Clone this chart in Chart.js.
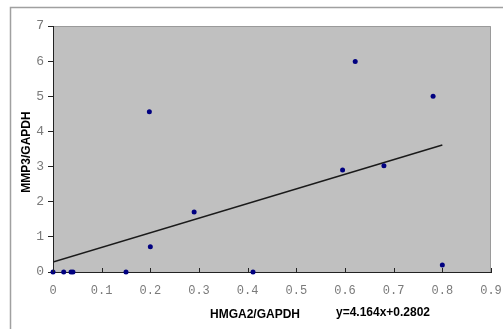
<!DOCTYPE html>
<html>
<head>
<meta charset="utf-8">
<script src="https://cdn.jsdelivr.net/npm/chart.js@4"></script>
<style>
  html, body { margin: 0; padding: 0; background: #fff; }
  #wrap { width: 503px; height: 329px; }
</style>
</head>
<body>
<div id="wrap"><canvas id="mycanvas" width="503" height="329"></canvas></div>
<script>
// values
var hmga2 = [0, 0.022, 0.037, 0.041, 0.15, 0.2, 0.198, 0.29, 0.411, 0.595, 0.621, 0.68, 0.781, 0.8];
var mmp3  = [0, 0, 0, 0, 0, 0.72, 4.56, 1.71, 0, 2.9, 5.99, 3.02, 5.0, 0.2];
var fitX = [0, 0.8];
var slope = 4.164, intercept = 0.2802;
var equation = 'y=4.164x+0.2802';
var xTitle = 'HMGA2/GAPDH';
var yTitle = 'MMP3/GAPDH';

var points = [];
for (var i in hmga2) {
  points.push({ x: hmga2[i], y: mmp3[i] });
}
var fit = [];
for (var j in fitX) {
  fit.push({ x: fitX[j], y: slope * fitX[j] + intercept });
}

// frame, plot background, inside x ticks, titles
var decor = {
  id: 'decor',
  beforeDraw: function(chart) {
    var c = chart.ctx, a = chart.chartArea;
    c.save();
    c.fillStyle = '#c0c0c0';
    c.fillRect(a.left, a.top, a.right - a.left, a.bottom - a.top);
    c.strokeStyle = '#a0a0a0';
    c.lineWidth = 1.5;
    c.beginPath();
    c.moveTo(10.5, 329);
    c.lineTo(10.5, 7.5);
    c.lineTo(503, 7.5);
    c.stroke();
    c.strokeStyle = '#9a9a9a';
    c.lineWidth = 1;
    c.beginPath();
    c.moveTo(a.left, a.top + 0.5);
    c.lineTo(a.right - 0.5, a.top + 0.5);
    c.lineTo(a.right - 0.5, a.bottom);
    c.stroke();
    c.restore();
  },
  afterDraw: function(chart) {
    var c = chart.ctx, a = chart.chartArea, xs = chart.scales.x;
    c.save();
    c.strokeStyle = '#222';
    c.lineWidth = 1;
    xs.ticks.forEach(function(t) {
      var px = Math.round(xs.getPixelForValue(t.value)) + 0.5;
      c.beginPath();
      c.moveTo(px, a.bottom);
      c.lineTo(px, a.bottom - 4);
      c.stroke();
    });
    c.fillStyle = '#000';
    c.font = 'bold 12px "Liberation Sans", Arial, sans-serif';
    c.textAlign = 'center';
    c.textBaseline = 'middle';
    c.fillText(xTitle, 255, 315);
    c.fillText(equation, 383, 313);
    c.translate(27, 152);
    c.rotate(-Math.PI / 2);
    c.fillText(yTitle, 0, 0);
    c.restore();
  }
};

var ctx = document.getElementById('mycanvas');
var chart = new Chart(ctx, {
  type: 'scatter',
  data: {
    datasets: [
      {
        label: 'data',
        data: points,
        backgroundColor: '#000080',
        borderColor: '#000080',
        pointRadius: 2.5,
        pointBorderWidth: 0,
        clip: false
      },
      {
        type: 'line',
        label: 'fit',
        data: fit,
        borderColor: '#1a1a1a',
        borderWidth: 1.5,
        pointRadius: 0,
        fill: false
      }
    ]
  },
  options: {
    responsive: false,
    animation: false,
    layout: { padding: { top: 26, right: 12, left: 0, bottom: 0 } },
    plugins: { legend: { display: false }, tooltip: { enabled: false } },
    scales: {
      x: {
        type: 'linear',
        min: 0,
        max: 0.9,
        ticks: {
          stepSize: 0.1,
          color: '#7a7a7a',
          font: { family: '"Liberation Mono", monospace', size: 12 },
          padding: 12,
          maxRotation: 0,
          callback: function(v) { return v === 0 ? '0' : v.toFixed(1); }
        },
        grid: { display: true, drawOnChartArea: false, drawTicks: false },
        border: { color: '#222', width: 1 },
        afterFit: function(s) { s.height = 57; s.paddingRight = 0; s.paddingLeft = 0; }
      },
      y: {
        min: 0,
        max: 7,
        ticks: {
          stepSize: 1,
          color: '#7a7a7a',
          font: { family: '"Liberation Mono", monospace', size: 13 },
          padding: 4
        },
        grid: { drawOnChartArea: false, drawTicks: true, tickLength: 5, color: '#222' },
        border: { color: '#222', width: 1 },
        afterFit: function(s) { s.width = 53; s.paddingTop = 0; s.paddingBottom = 0; }
      }
    }
  },
  plugins: [decor]
});
</script>
</body>
</html>
